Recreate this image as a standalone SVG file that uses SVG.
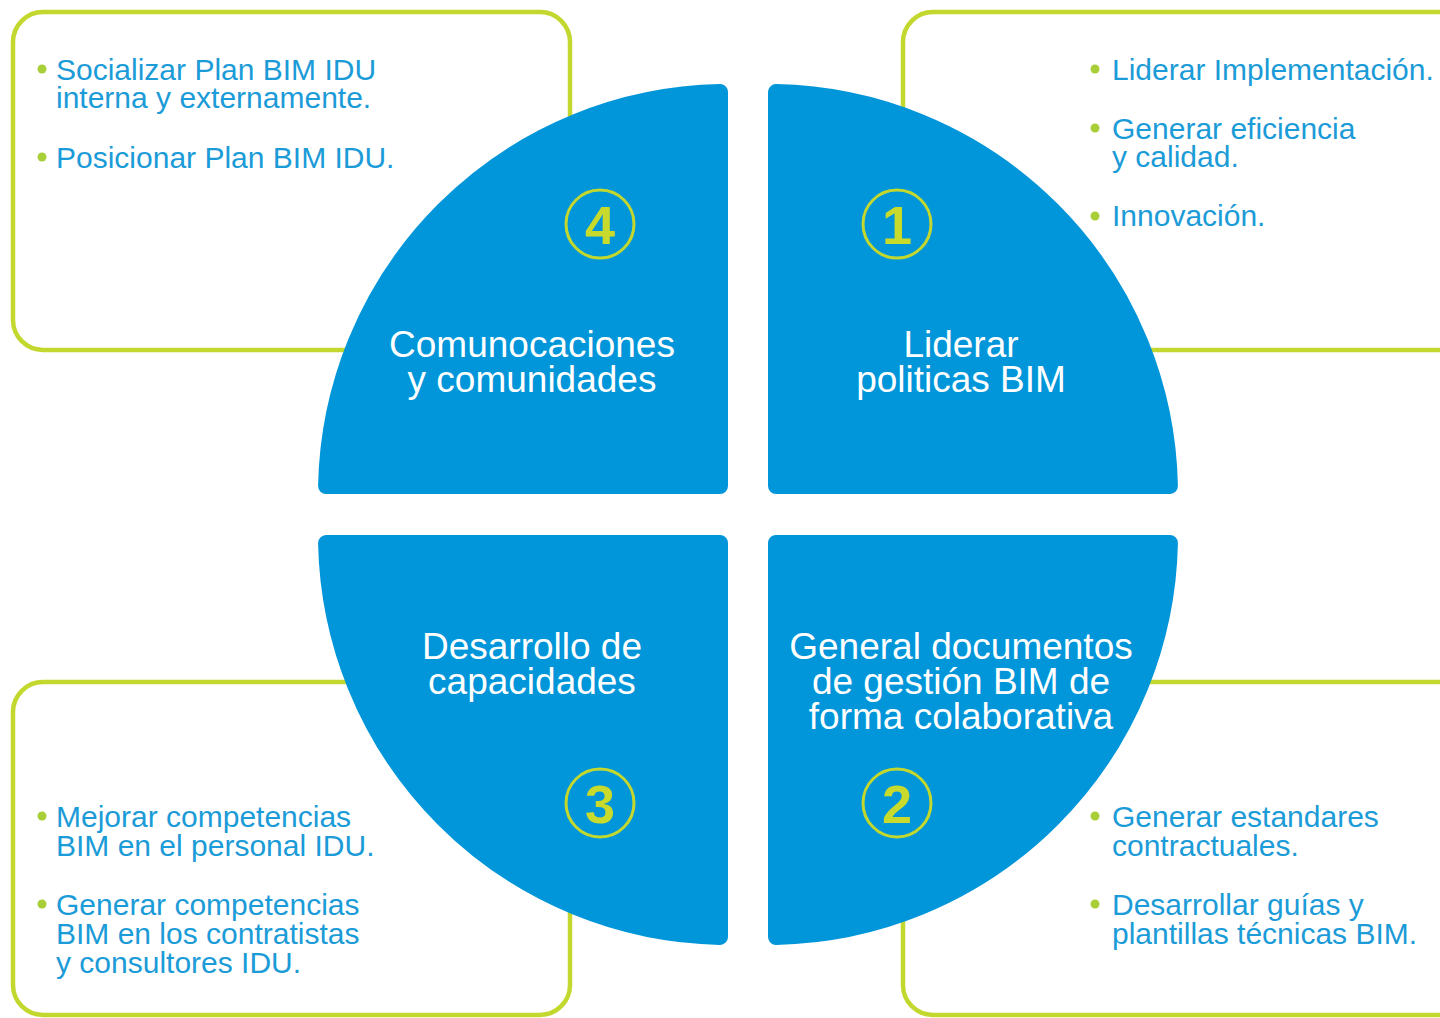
<svg xmlns="http://www.w3.org/2000/svg" width="1440" height="1018" viewBox="0 0 1440 1018">
<style>
.box{fill:#ffffff;stroke:#c3d82e;stroke-width:4.5}
.quad{fill:#0096d9;stroke:#0096d9;stroke-width:16;stroke-linejoin:round}
.ring{fill:none;stroke:#c3d82e;stroke-width:3}
.num{font-family:"Liberation Sans",Arial,sans-serif;font-weight:bold;font-size:54px;fill:#c8da2b;text-anchor:middle}
.lbl{font-family:"Liberation Sans",Arial,sans-serif;font-size:37px;fill:#ffffff;text-anchor:middle}
.item{font-family:"Liberation Sans",Arial,sans-serif;font-size:30px;fill:#1b9bd7}
.dot{fill:#a9cf38}
</style>
<rect width="1440" height="1018" fill="#ffffff"/>
<g id="box-tl">
<rect class="box" x="13" y="12" width="557" height="338" rx="30"/>
<circle class="dot" cx="42" cy="69" r="4.5"/>
<text class="item" x="56" y="80">Socializar Plan BIM IDU</text>
<text class="item" x="56" y="108">interna y externamente.</text>
<circle class="dot" cx="42" cy="157" r="4.5"/>
<text class="item" x="56" y="168">Posicionar Plan BIM IDU.</text>
</g>
<g id="box-tr">
<rect class="box" x="903" y="12" width="600" height="338" rx="30"/>
<circle class="dot" cx="1095" cy="69" r="4.5"/>
<text class="item" x="1112" y="80">Liderar Implementación.</text>
<circle class="dot" cx="1095" cy="128" r="4.5"/>
<text class="item" x="1112" y="139">Generar eficiencia</text>
<text class="item" x="1112" y="167">y calidad.</text>
<circle class="dot" cx="1095" cy="216" r="4.5"/>
<text class="item" x="1112" y="226">Innovación.</text>
</g>
<g id="box-bl">
<rect class="box" x="13" y="682" width="557" height="333" rx="30"/>
<circle class="dot" cx="42" cy="816" r="4.5"/>
<text class="item" x="56" y="827">Mejorar competencias</text>
<text class="item" x="56" y="856">BIM en el personal IDU.</text>
<circle class="dot" cx="42" cy="904" r="4.5"/>
<text class="item" x="56" y="915">Generar competencias</text>
<text class="item" x="56" y="944">BIM en los contratistas</text>
<text class="item" x="56" y="973">y consultores IDU.</text>
</g>
<g id="box-br">
<rect class="box" x="903" y="682" width="600" height="333" rx="30"/>
<circle class="dot" cx="1095" cy="816" r="4.5"/>
<text class="item" x="1112" y="827">Generar estandares</text>
<text class="item" x="1112" y="856">contractuales.</text>
<circle class="dot" cx="1095" cy="904" r="4.5"/>
<text class="item" x="1112" y="915">Desarrollar guías y</text>
<text class="item" x="1112" y="944">plantillas técnicas BIM.</text>
</g>
<g id="q4">
<path class="quad" d="M720,486 L326.08,486 A402,402 0 0 1 720,92.08 Z"/>
<circle class="ring" cx="600" cy="224" r="34"/>
<text class="num" x="600" y="244">4</text>
<text class="lbl" x="532" y="357">Comunocaciones</text>
<text class="lbl" x="532" y="392">y comunidades</text>
</g>
<g id="q1">
<path class="quad" d="M776,486 L776,92.08 A402,402 0 0 1 1169.92,486 Z"/>
<circle class="ring" cx="897" cy="224" r="34"/>
<text class="num" x="897" y="244">1</text>
<text class="lbl" x="961" y="357">Liderar</text>
<text class="lbl" x="961" y="392">politicas BIM</text>
</g>
<g id="q3">
<path class="quad" d="M720,543 L720,936.92 A402,402 0 0 1 326.08,543 Z"/>
<circle class="ring" cx="600" cy="803" r="34"/>
<text class="num" x="600" y="823">3</text>
<text class="lbl" x="532" y="659">Desarrollo de</text>
<text class="lbl" x="532" y="694">capacidades</text>
</g>
<g id="q2">
<path class="quad" d="M776,543 L1169.92,543 A402,402 0 0 1 776,936.92 Z"/>
<circle class="ring" cx="897" cy="803" r="34"/>
<text class="num" x="897" y="823">2</text>
<text class="lbl" x="961" y="659">General documentos</text>
<text class="lbl" x="961" y="694">de gestión BIM de</text>
<text class="lbl" x="961" y="729">forma colaborativa</text>
</g>
<g id="connectors"></g>
</svg>
